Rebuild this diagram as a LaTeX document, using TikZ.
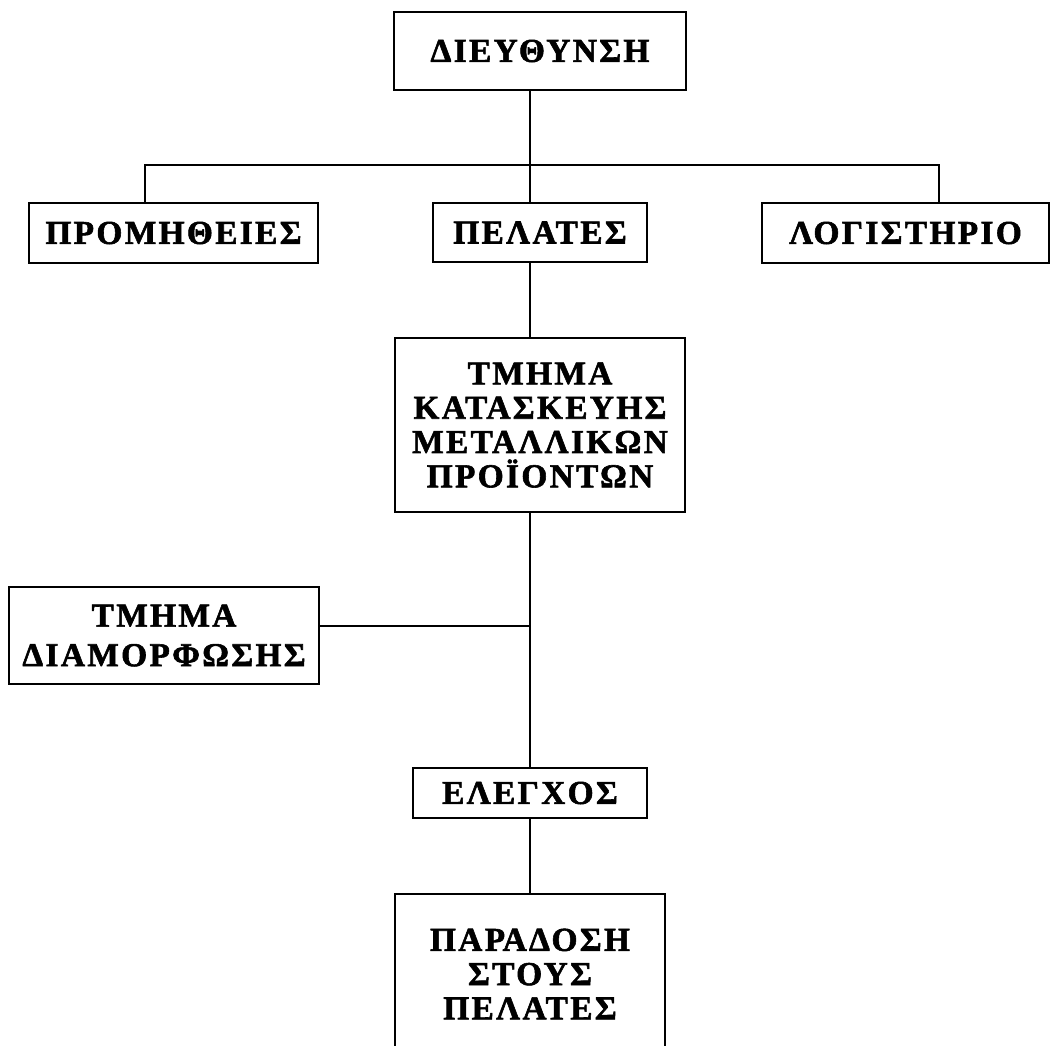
\documentclass[tikz,border=0pt]{standalone}
\usepackage{fontspec}
\setmainfont{Liberation Serif}[LetterSpace=7, BoldFeatures={FakeBold=1.7}]
\usepackage{tikz}
\tikzset{box/.style={draw, line width=1.3pt, align=center, inner sep=0pt,
    font=\bfseries\fontsize{19}{19.5}\selectfont},
  link/.style={line width=1.3pt}}

\begin{document}
\begin{tikzpicture}[x=0.2mm, y=-0.2mm]
\useasboundingbox (0,0) rectangle (1051,1045);
\clip (0,0) rectangle (1051,1045);
\node[box, minimum width=58.4mm, minimum height=15.6mm] (dir) at (540,51) {ΔΙΕΥΘΥΝΣΗ};
\node[box, minimum width=57.8mm, minimum height=12mm] (prom) at (173.5,233) {ΠΡΟΜΗΘΕΙΕΣ};
\node[box, minimum width=42.8mm, minimum height=11.8mm] (pel) at (540,232.5) {ΠΕΛΑΤΕΣ};
\node[box, minimum width=57.4mm, minimum height=12mm] (log) at (905.5,233) {ΛΟΓΙΣΤΗΡΙΟ};
\node[box, minimum width=58mm, minimum height=34.8mm] (kat) at (540,425)
     {ΤΜΗΜΑ\\ΚΑΤΑΣΚΕΥΗΣ\\ΜΕΤΑΛΛΙΚΩΝ\\ΠΡΟΪΟΝΤΩΝ};
\node[box, minimum width=62mm, minimum height=19.4mm] (diam) at (164,635.5)
     {ΤΜΗΜΑ\\[3pt]ΔΙΑΜΟΡΦΩΣΗΣ};
\node[box, minimum width=46.8mm, minimum height=10mm] (eleg) at (530,793) {ΕΛΕΓΧΟΣ};
\node[box, minimum width=54mm, minimum height=32mm] (par) at (530,974)
     {ΠΑΡΑΔΟΣΗ\\ΣΤΟΥΣ\\ΠΕΛΑΤΕΣ};

\coordinate (trunk) at (530,0);
\coordinate (bus-l) at (145,165);
\coordinate (bus-r) at (939,165);
\coordinate (branch) at (530,626);

\draw[link] (dir.south -| trunk) -- (bus-l -| trunk) -- (pel.north -| trunk);
\draw[link] (prom.north -| bus-l) -- (bus-l) -- (bus-r) -- (log.north -| bus-r);
\draw[link] (pel.south -| trunk) -- (kat.north -| trunk);
\draw[link] (kat.south -| trunk) -- (eleg.north -| trunk);
\draw[link] (diam.east |- branch) -- (branch);
\draw[link] (eleg.south -| trunk) -- (par.north -| trunk);
\end{tikzpicture}
\end{document}
